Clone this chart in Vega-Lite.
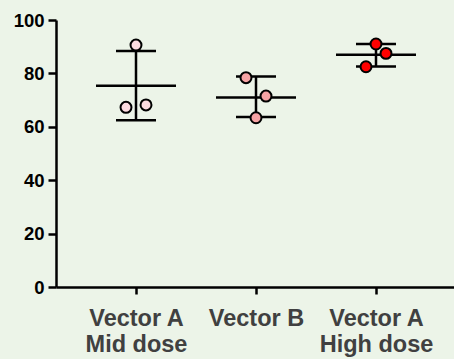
{
  "$schema": "https://vega.github.io/schema/vega-lite/v6.json",
  "autosize": "none",
  "padding": {"left": 56, "top": 20, "right": 0, "bottom": 72},
  "width": 400,
  "height": 267,
  "background": "#ecf4e8",
  "config": {"view": {"stroke": null}},
  "datasets": {
    "points": [
      {"group": "Vector A|Mid dose", "value": 90.6, "jitter": 0, "shade": "mid"},
      {"group": "Vector A|Mid dose", "value": 67.3, "jitter": -1, "shade": "mid"},
      {"group": "Vector A|Mid dose", "value": 68.2, "jitter": 1, "shade": "mid"},
      {"group": "Vector B", "value": 78.4, "jitter": -1, "shade": "b"},
      {"group": "Vector B", "value": 71.5, "jitter": 1, "shade": "b"},
      {"group": "Vector B", "value": 63.4, "jitter": 0, "shade": "b"},
      {"group": "Vector A|High dose", "value": 91.0, "jitter": 0, "shade": "high"},
      {"group": "Vector A|High dose", "value": 87.5, "jitter": 1, "shade": "high"},
      {"group": "Vector A|High dose", "value": 82.5, "jitter": -1, "shade": "high"}
    ],
    "summary": [
      {"group": "Vector A|Mid dose", "mean": 75.4, "lo": 62.5, "hi": 88.4},
      {"group": "Vector B", "mean": 71.0, "lo": 63.7, "hi": 78.8},
      {"group": "Vector A|High dose", "mean": 87.0, "lo": 82.6, "hi": 91.0}
    ]
  },
  "encoding": {
    "x": {
      "field": "group",
      "type": "nominal",
      "sort": ["Vector A|Mid dose", "Vector B", "Vector A|High dose"],
      "scale": {"type": "point", "padding": 0.6667},
      "axis": {
        "title": null,
        "labelAngle": 0,
        "labelExpr": "split(datum.value, '|')",
        "labelFont": "Liberation Sans",
        "labelFontWeight": "bold",
        "labelFontSize": 23.5,
        "labelColor": "#404040",
        "labelLineHeight": 26,
        "labelBaseline": "top",
        "labelPadding": 12,
        "tickSize": 7,
        "tickWidth": 2.5,
        "tickColor": "#000000",
        "domainColor": "#000000",
        "domainWidth": 2.5,
        "grid": false
      }
    }
  },
  "layer": [
    {
      "data": {"name": "summary"},
      "mark": {"type": "rule", "color": "#000000", "strokeWidth": 2.5, "opacity": 1},
      "encoding": {
        "y": {"field": "lo", "type": "quantitative", "scale": {"domain": [0, 100]},
          "axis": {
            "title": null,
            "values": [0, 20, 40, 60, 80, 100],
            "labelFont": "Liberation Sans",
            "labelFontWeight": "bold",
            "labelFontSize": 18.5,
            "labelColor": "#000000",
            "labelPadding": 4,
            "tickSize": 8,
            "tickWidth": 2.5,
            "tickColor": "#000000",
            "domainColor": "#000000",
            "domainWidth": 2.5,
            "grid": false
          }},
        "y2": {"field": "hi"}
      }
    },
    {
      "data": {"name": "summary"},
      "mark": {"type": "tick", "color": "#000000", "opacity": 1, "size": 40, "thickness": 2.5, "orient": "horizontal"},
      "encoding": {"y": {"field": "lo", "type": "quantitative"}}
    },
    {
      "data": {"name": "summary"},
      "mark": {"type": "tick", "color": "#000000", "opacity": 1, "size": 40, "thickness": 2.5, "orient": "horizontal"},
      "encoding": {"y": {"field": "hi", "type": "quantitative"}}
    },
    {
      "data": {"name": "summary"},
      "mark": {"type": "tick", "color": "#000000", "opacity": 1, "size": 80, "thickness": 2.5, "orient": "horizontal"},
      "encoding": {"y": {"field": "mean", "type": "quantitative"}}
    },
    {
      "data": {"name": "points"},
      "mark": {"type": "point", "shape": "circle", "filled": true, "size": 120, "stroke": "#000000", "strokeWidth": 2, "opacity": 1},
      "encoding": {
        "y": {"field": "value", "type": "quantitative"},
        "xOffset": {"field": "jitter", "type": "quantitative", "scale": {"domain": [-1, 1], "range": [-10, 10]}},
        "fill": {"field": "shade", "type": "nominal", "legend": null,
          "scale": {"domain": ["mid", "b", "high"], "range": ["#fcdbe0", "#f6a3a4", "#ff0000"]}}
      }
    }
  ]
}
